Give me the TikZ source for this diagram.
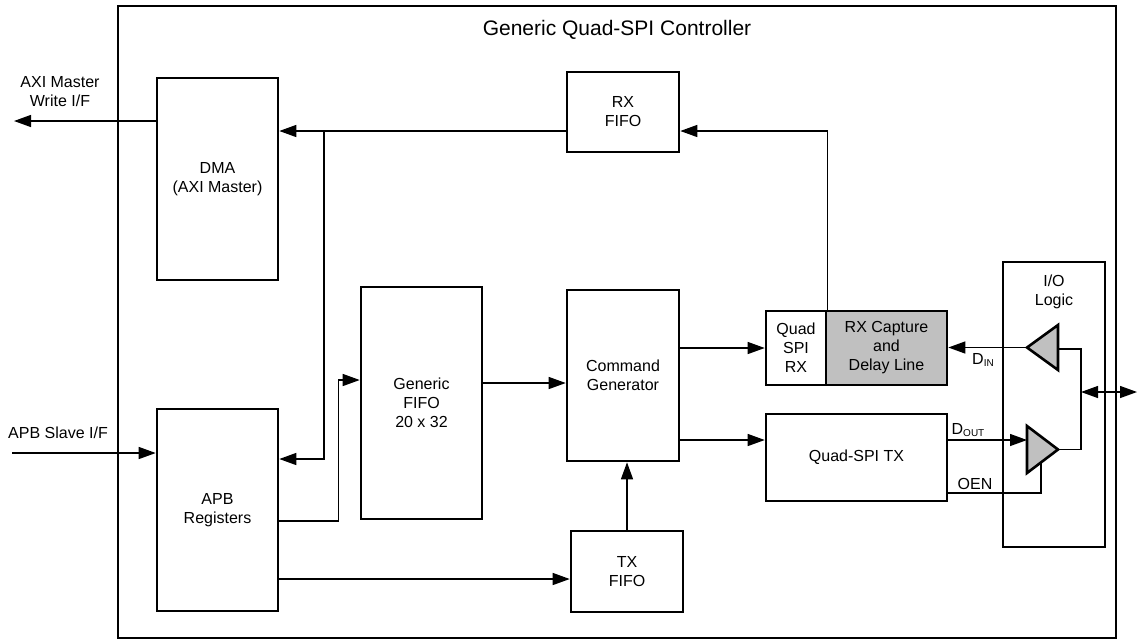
\documentclass[tikz,border=0pt]{standalone}
\usepackage{fontspec}
\setmainfont{Liberation Sans}
\usepackage{xcolor}
\usetikzlibrary{arrows.meta, positioning, calc}
\definecolor{capgray}{RGB}{192,192,192}
\newcommand{\sbs}[1]{\raisebox{-2.5pt}{\fontsize{10}{10}\selectfont #1}}

\begin{document}
\begin{tikzpicture}[
  x=1pt, y=-1pt,
  >={Triangle[length=17pt, width=12pt]},
  blk/.style={rectangle, draw=black, line width=2.6pt, align=center, inner sep=0pt, font=\fontsize{16}{19}\selectfont},
  lbl/.style={align=center, inner sep=0pt, font=\fontsize{16}{19}\selectfont},
  conn/.style={line width=1.3pt},
  buf/.style={draw=black, line width=2.6pt, fill=capgray, line join=miter}
]
  \useasboundingbox (0,0) rectangle (1139,641);

  \node[blk, minimum width=998pt, minimum height=632pt] (ctrl) at (617,322) {};
  \node[lbl, font=\fontsize{21}{25}\selectfont] (title) at (617,30) {Generic Quad-SPI Controller};

  \node[blk, minimum width=121pt, minimum height=202pt] (dma) at (217.5,179) {DMA\\(AXI Master)};
  \node[blk, minimum width=121pt, minimum height=202pt] (apb) at (217.5,510) {APB\\Registers};
  \node[blk, minimum width=112pt, minimum height=80pt] (rxf) at (623,112) {RX\\FIFO};
  \node[blk, minimum width=121pt, minimum height=232pt] (fifo) at (421.5,403) {Generic\\FIFO\\20 x 32};
  \node[blk, minimum width=112pt, minimum height=171pt] (cmd) at (623,375.5) {Command\\Generator};
  \node[blk, minimum width=112pt, minimum height=81pt] (txf) at (627,571.5) {TX\\FIFO};
  \node[blk, minimum width=60pt, minimum height=74pt] (qrx) at (796,348) {Quad\\SPI\\RX};
  \node[blk, fill=capgray, minimum width=121pt, minimum height=74pt] (cap) at (886.5,348) {RX Capture\\and\\Delay Line};
  \node[blk, minimum width=181pt, minimum height=87pt] (qtx) at (856.5,457.5) {Quad-SPI TX};
  \node[blk, minimum width=102pt, minimum height=285pt] (io) at (1054,404.5) {};
  \node[lbl] (iot) at (1054,292) {I/O\\Logic};

  \node[lbl] (axil) at (60,91.5) {AXI Master\\Write I/F};
  \node[lbl] (apbl) at (58,433) {APB Slave I/F};

  % I/O buffers
  \draw[buf] (1027,347.5) coordinate (ib) -- (1058,325) -- (1058,370) -- cycle;
  \draw[buf] (1058,449.5) coordinate (ob) -- (1027,426) -- (1027,473) -- cycle;
  \coordinate (ibb) at (1058,349);
  \coordinate (obb) at (1027,449.5);
  \coordinate (oenin) at (1041,462.5);

  \coordinate (axi) at (14,121);
  \coordinate (jt) at (324,131);
  \coordinate (apbin) at (12,453);
  \coordinate (jx) at (1081,392);
  \coordinate (port) at (1137,392);
  \coordinate (a2r) at ([yshift=51pt]apb.east);
  \coordinate (f2c) at ([yshift=20pt]fifo.east);
  \coordinate (a2t) at ([yshift=-69pt]apb.east);
  \coordinate (c2t) at ([yshift=17.5pt]qtx.west);
  \coordinate (dout) at ([yshift=17.5pt]qtx.east);
  \coordinate (oen) at ([yshift=-35.5pt]qtx.east);

  \draw[conn, ->] (dma.west |- axi) -- (axi);
  \draw[conn, ->] (rxf.west |- jt) -- (dma.east |- jt);
  \draw[conn, ->] (jt) |- (a2r);
  \draw[conn, ->] (qrx.north east) |- (rxf.east |- jt);
  \draw[conn, ->] (apbin) -- (apb.west |- apbin);
  \draw[conn, ->] ([yshift=-11pt]apb.east) -- ++(59,0) |- ([yshift=23pt]fifo.west);
  \draw[conn, ->] (f2c) -- (cmd.west |- f2c);
  \draw[conn, ->] (a2t) -- (txf.west |- a2t);
  \draw[conn, ->] (txf.north) -- (txf.north |- cmd.south);
  \draw[conn, ->] (cmd.east |- qrx.west) -- (qrx.west);
  \draw[conn, ->] (cmd.east |- c2t) -- (c2t);

  \draw[conn, ->] (ib) -- (cap.east |- ib);
  \node[lbl] (din) at (983,360) {D\sbs{IN}};
  \draw[conn, ->] (dout) -- (obb |- dout);
  \node[lbl] (doutl) at (968,430) {D\sbs{OUT}};
  \draw[conn] (oen) -| (oenin);
  \node[lbl] (oenl) at (975,484) {OEN};

  \draw[conn] (ibb) -| (jx) |- (ob);
  \draw[conn, <->] (jx) -- (port);
\end{tikzpicture}
\end{document}
